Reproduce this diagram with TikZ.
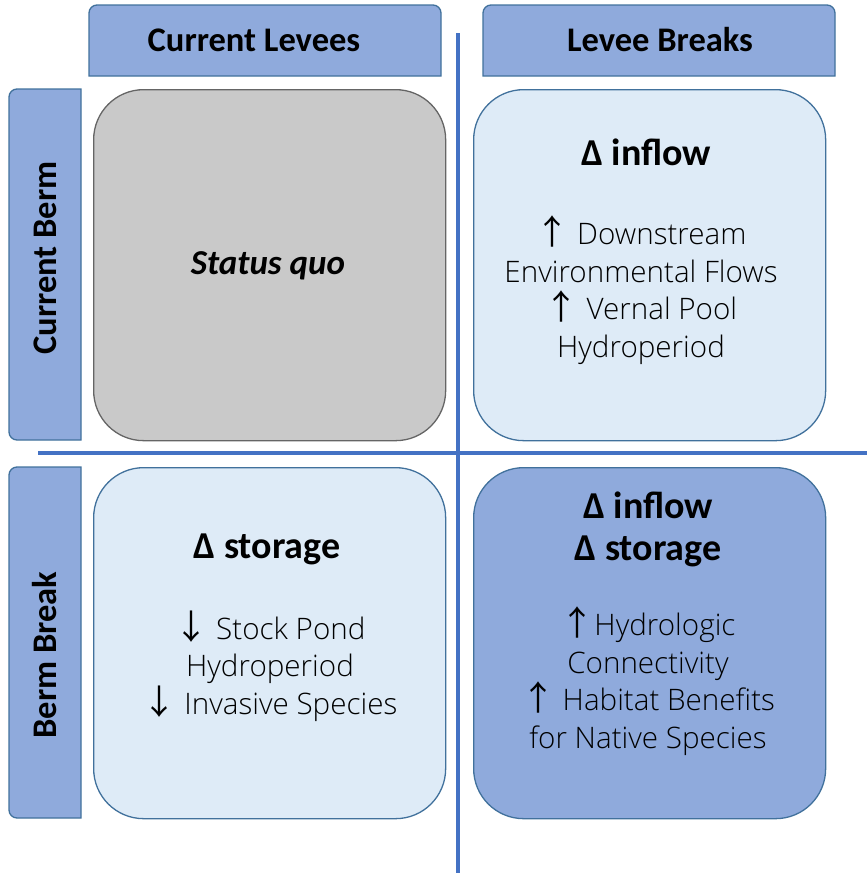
\documentclass[tikz,border=0pt]{standalone}
\usepackage{fontspec}
\setmainfont{Carlito}
\newfontfamily\bodyfont{Open Sans Light}
\newfontfamily\arrowfont{Noto Sans CJK SC}
\definecolor{hdrfill}{HTML}{8FAADC}
\definecolor{hdrline}{HTML}{41719C}
\definecolor{greyfill}{HTML}{C9C9C9}
\definecolor{greyline}{HTML}{656565}
\definecolor{palefill}{HTML}{DEEBF7}
\definecolor{axisblue}{HTML}{4472C4}
\newcommand{\up}{{\arrowfont\fontsize{34}{34}\selectfont ↑}}
\newcommand{\down}{{\arrowfont\fontsize{34}{34}\selectfont ↓}}
\tikzset{
  hdr/.style={fill=hdrfill, draw=hdrline, line width=1.3pt},
  hdrtext/.style={font=\fontsize{34.5}{36}\selectfont\bfseries, inner sep=0pt},
  cell/.style={rounded corners=50pt, line width=1.3pt, minimum width=352pt,
    minimum height=351pt, anchor=north west, inner sep=0pt},
  title/.style={font=\fontsize{38}{42}\selectfont\bfseries, align=center, inner sep=0pt},
  body/.style={font=\bodyfont\fontsize{29.6}{37.5}\selectfont, align=center, inner sep=0pt},
  axis/.style={draw=axisblue, line width=4.5pt}
}
\begin{document}
\begin{tikzpicture}[x=1pt, y=-1pt]
\useasboundingbox (0,0) rectangle (867,873);
% column headers (rounded on top only)
\draw[hdr] (89,76) [rounded corners=8pt] -- (89,5) -- (441,5) [sharp corners] -- (441,76) -- cycle;
\node[hdrtext] (colA) at (254,40) {Current Levees};
\draw[hdr] (483,76) [rounded corners=8pt] -- (483,5) -- (835,5) [sharp corners] -- (835,76) -- cycle;
\node[hdrtext] (colB) at (660,40) {Levee Breaks};
% row headers (rounded on the left only)
\draw[hdr] (81,89) [rounded corners=8pt] -- (9,89) -- (9,440) [sharp corners] -- (81,440) -- cycle;
\node[hdrtext, rotate=90] (rowA) at (45,258) {Current Berm};
\draw[hdr] (81,467) [rounded corners=8pt] -- (9,467) -- (9,818) [sharp corners] -- (81,818) -- cycle;
\node[hdrtext, rotate=90] (rowB) at (45,655) {Berm Break};
% dividing axes
\coordinate (vtop) at (458,33);
\coordinate (vbot) at (458,873);
\coordinate (hleft) at (38,453);
\coordinate (hright) at (867,453);
\draw[axis] (vtop) -- (vbot);
\draw[axis] (hleft) -- (hright);
% the four cells
\node[cell, fill=greyfill, draw=greyline] (c11) at (93,89) {};
\node[cell, fill=palefill, draw=hdrline] (c12) at (473,89) {};
\node[cell, fill=palefill, draw=hdrline] (c21) at (93,467) {};
\node[cell, fill=hdrfill, draw=hdrline] (c22) at (473,467) {};
% cell texts
\node[font=\fontsize{35}{36}\selectfont\bfseries\itshape, inner sep=0pt] (sq) at (268,266) {Status quo};
\node[title] (t12) at (646,152) {Δ inflow};
\node[body] (b12) at (641,290) {\up\ Downstream\\Environmental Flows\\\up\ Vernal Pool\\Hydroperiod};
\node[title] (t21) at (267,549) {Δ storage};
\node[body] (b21) at (270,666) {\down\ Stock Pond\\Hydroperiod\\\down\ Invasive Species};
\node[title] (t22) at (648,529) {Δ inflow\\Δ storage};
\node[body] (b22) at (648,681) {\up Hydrologic\\Connectivity\\\up\ Habitat Benefits\\for Native Species};
\end{tikzpicture}
\end{document}
